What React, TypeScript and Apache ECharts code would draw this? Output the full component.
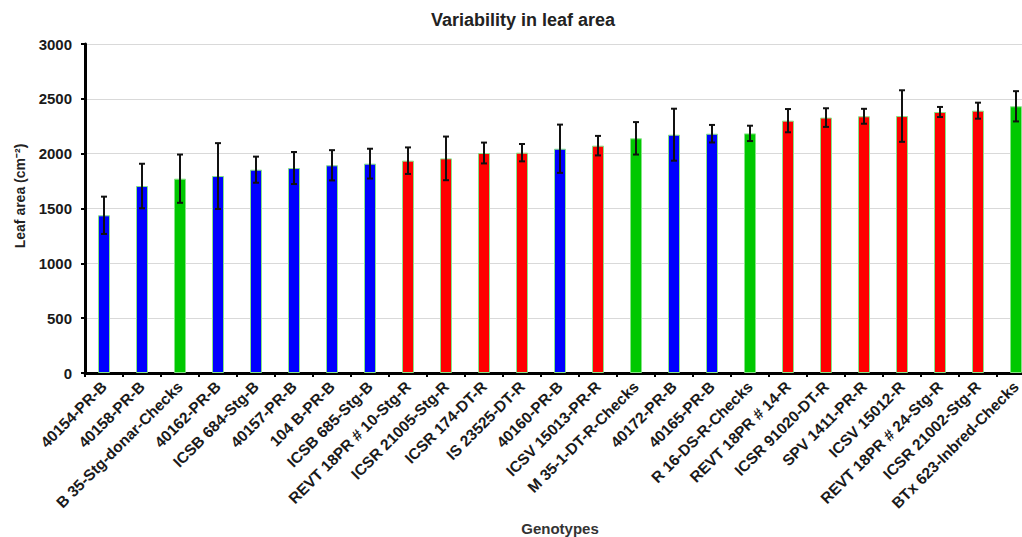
import React, { useEffect, useRef } from "react";
import * as echarts from "echarts";

const categories = [
  "40154-PR-B",
  "40158-PR-B",
  "B 35-Stg-donar-Checks",
  "40162-PR-B",
  "ICSB 684-Stg-B",
  "40157-PR-B",
  "104 B-PR-B",
  "ICSB 685-Stg-B",
  "REVT 18PR # 10-Stg-R",
  "ICSR 21005-Stg-R",
  "ICSR 174-DT-R",
  "IS 23525-DT-R",
  "40160-PR-B",
  "ICSV 15013-PR-R",
  "M 35-1-DT-R-Checks",
  "40172-PR-B",
  "40165-PR-B",
  "R 16-DS-R-Checks",
  "REVT 18PR # 14-R",
  "ICSR 91020-DT-R",
  "SPV 1411-PR-R",
  "ICSV 15012-R",
  "REVT 18PR # 24-Stg-R",
  "ICSR 21002-Stg-R",
  "BTx 623-Inbred-Checks",
];

// B = B-line, R = R-line, C = check
const groups = ["B","B","C","B","B","B","B","B","R","R","R","R","B","R","C","B","B","C","R","R","R","R","R","R","C"];

const means = [1438, 1705, 1772, 1796, 1854, 1869, 1894, 1909, 1936, 1957, 2006, 2009, 2045, 2073, 2140, 2173, 2182, 2185, 2301, 2329, 2341, 2343, 2380, 2392, 2432];
const errors = [170, 203, 220, 300, 119, 146, 138, 136, 121, 199, 95, 79, 220, 89, 148, 237, 80, 70, 106, 85, 68, 235, 46, 73, 138];

const yTicks = [0, 500, 1000, 1500, 2000, 2500, 3000];

const groupColors: Record<string, string> = { B: "#0000ff", R: "#ff0000", C: "#00c800" };

const FONT = "'Liberation Sans', Arial, Helvetica, sans-serif";
const TEXT = "#1a1a1a";

export default function App() {
  const ref = useRef<HTMLDivElement>(null);
  useEffect(() => {
    if (!ref.current) return;
    const chart = echarts.init(ref.current, undefined, { renderer: "svg" });
    const option = {
      animation: false,
      backgroundColor: "#ffffff",
      textStyle: { fontFamily: FONT },
      grid: { left: 85, right: 5, top: 44, bottom: 164, containLabel: false },
      graphic: [
        {
          type: "text",
          x: 523,
          y: 20,
          style: {
            text: "Variability in leaf area",
            fontSize: 18,
            fontWeight: "bold",
            fontFamily: FONT,
            fill: "#222222",
            textAlign: "center",
            textVerticalAlign: "middle",
          },
        },
        {
          type: "text",
          x: 20,
          y: 196,
          rotation: Math.PI / 2,
          style: {
            text: "Leaf area (cm\u207B\u00B2)",
            fontSize: 14,
            fontWeight: "bold",
            fontFamily: FONT,
            fill: "#222222",
            textAlign: "center",
            textVerticalAlign: "middle",
          },
        },
        {
          type: "text",
          x: 560,
          y: 528,
          style: {
            text: "Genotypes",
            fontSize: 15,
            fontWeight: "bold",
            fontFamily: FONT,
            fill: "#333333",
            textAlign: "center",
            textVerticalAlign: "middle",
          },
        },
      ],
      xAxis: {
        type: "category",
        data: categories,
        axisLine: { show: true, lineStyle: { color: "#000", width: 3 } },
        axisTick: { show: true, alignWithLabel: false, length: 4, lineStyle: { color: "#000", width: 2 } },
        axisLabel: {
          interval: 0,
          rotate: 45,
          margin: 11,
          fontSize: 15.5,
          fontWeight: "bold",
          fontFamily: FONT,
          color: TEXT,
        },
        splitLine: { show: false },
      },
      yAxis: {
        type: "value",
        min: yTicks[0],
        max: yTicks[yTicks.length - 1],
        interval: yTicks[1] - yTicks[0],
        axisLine: { show: true, lineStyle: { color: "#000", width: 3 } },
        axisTick: { show: true, length: 4, lineStyle: { color: "#000", width: 2 } },
        axisLabel: {
          margin: 13,
          fontSize: 15,
          fontWeight: "bold",
          fontFamily: FONT,
          color: TEXT,
          formatter: (v: number) => String(v),
        },
        splitLine: { show: true, lineStyle: { color: "#d9d9d9", width: 1 } },
      },
      series: [
        {
          type: "bar",
          barWidth: 12,
          data: means.map((v, i) => ({
            value: v,
            itemStyle: {
              color: groupColors[groups[i]],
              borderColor: "#86e486",
              borderWidth: 1,
            },
          })),
          z: 2,
        },
        {
          type: "custom",
          z: 3,
          data: means.map((v, i) => [i, v - errors[i], v + errors[i]]),
          encode: { x: 0, y: [1, 2] },
          renderItem: (params: any, api: any) => {
            const x = api.value(0);
            const lo = api.coord([x, api.value(1)]);
            const hi = api.coord([x, api.value(2)]);
            const cap = 3;
            const style = { stroke: "#111", lineWidth: 2 };
            return {
              type: "group",
              children: [
                { type: "line", shape: { x1: lo[0], y1: lo[1], x2: hi[0], y2: hi[1] }, style },
                { type: "line", shape: { x1: hi[0] - cap, y1: hi[1], x2: hi[0] + cap, y2: hi[1] }, style },
                { type: "line", shape: { x1: lo[0] - cap, y1: lo[1], x2: lo[0] + cap, y2: lo[1] }, style },
              ],
            };
          },
        },
      ],
    };
    chart.setOption(option as any);
    return () => chart.dispose();
  }, []);
  return (
    <div style={{ position: "fixed", left: 0, top: 0, width: 1022, height: 537, overflow: "hidden" }}>
      <div ref={ref} style={{ width: 1040, height: 537 }} />
    </div>
  );
}
